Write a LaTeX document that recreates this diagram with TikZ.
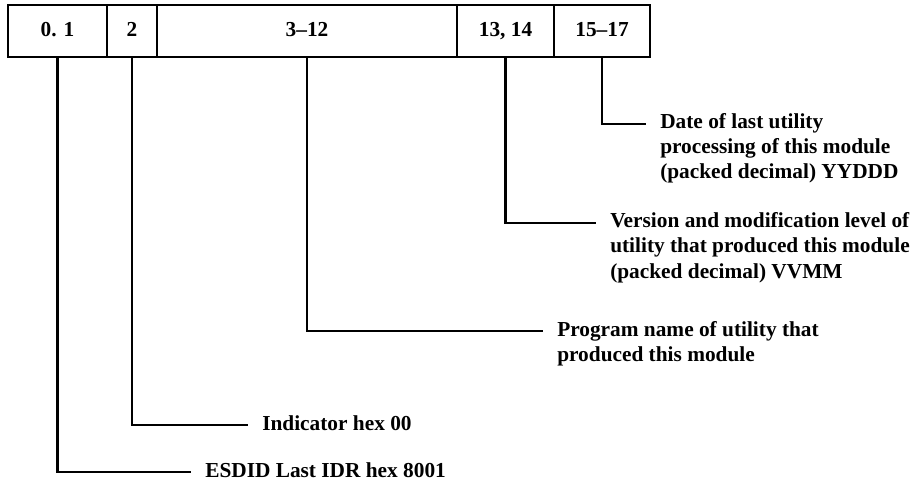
\documentclass[tikz,border=0pt]{standalone}
\usepackage{fontspec}
\setmainfont{Liberation Serif}

\newcommand{\lines}[1]{\begin{tabular}[t]{@{}l@{}}#1\end{tabular}}

\tikzset{
  field/.style = {draw, line width=2pt, inner sep=0pt, minimum height=39pt,
                  text height=11pt, text depth=3pt,
                  font=\fontsize{16}{18.75}\selectfont\bfseries},
  desc/.style  = {anchor=base west, inner xsep=10.5pt, inner ysep=0pt,
                  font=\fontsize{16}{18.75}\selectfont\bfseries},
  lead/.style  = {line width=2pt}
}

\begin{document}
\begin{tikzpicture}[x=0.75pt, y=-0.75pt]
	\useasboundingbox (0,0) rectangle (923,488);
	% record fields
	\node[field, minimum width=74.25pt] (c01)   at (57.5, 31) {0. 1};
	\node[field, minimum width=37.5pt]  (c2)    at (132, 31)  {2};
	\node[field, minimum width=225pt]   (c312)  at (307, 31)  {3--12};
	\node[field, minimum width=72.75pt] (c1314) at (505.5, 31) {13, 14};
	\node[field, minimum width=72pt]    (c1517) at (602, 31)  {15--17};
	% descriptions
	\node[desc] (d1517) at (646, 129) {\lines{Date of last utility\\processing of this module\\(packed decimal) YYDDD}};
	\node[desc] (d1314) at (596, 228) {\lines{Version and modification level of\\utility that produced this module\\(packed decimal) VVMM}};
	\node[desc] (d312)  at (543, 336) {\lines{Program name of utility that\\produced this module}};
	\node[desc] (d2)    at (248, 430) {Indicator hex 00};
	\node[desc] (d01)   at (191, 477) {ESDID Last IDR hex 8001};
	% leaders
	\draw[lead] (c1517.south) |- ([yshift=3.75pt]d1517.base west);
	\draw[lead] (c1314.south) |- ([yshift=3.75pt]d1314.base west);
	\draw[lead] (c312.south)  |- ([yshift=3.75pt]d312.base west);
	\draw[lead] (c2.south)    |- ([yshift=3.75pt]d2.base west);
	\draw[lead] (c01.south)   |- ([yshift=3.75pt]d01.base west);
\end{tikzpicture}
\end{document}
